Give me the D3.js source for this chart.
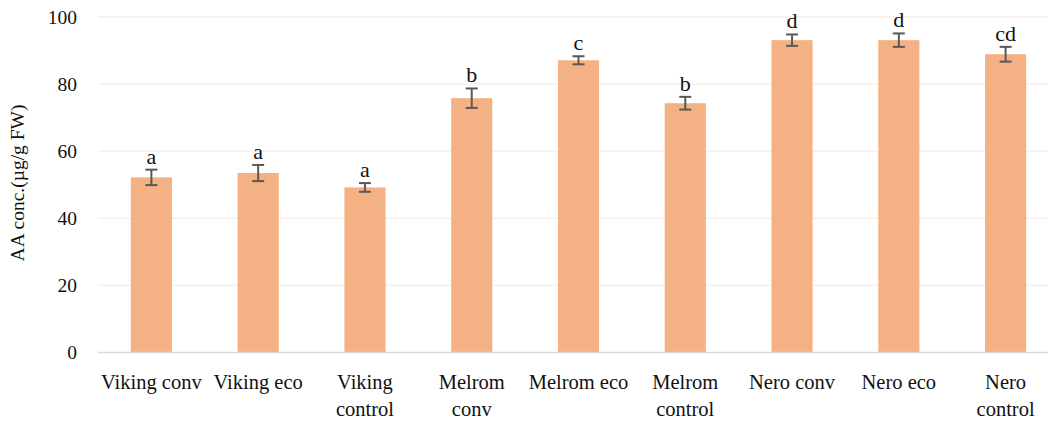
<!doctype html>
<html lang="en">
<head>
<meta charset="UTF-8" />
<title>AA conc.</title>
<script src="https://cdn.jsdelivr.net/npm/d3@7"></script>
<style>
  body { margin: 0; background: #fff; }
  text { font-family: "Liberation Serif", "DejaVu Serif", serif; fill: #111; }
</style>
</head>
<body>
<svg id="chart" width="1048" height="423"></svg>
<script>
// data
const categories = ["Viking conv", "Viking eco", "Viking control", "Melrom conv", "Melrom eco",
                    "Melrom control", "Nero conv", "Nero eco", "Nero control"];
const tickLines = [["Viking conv"], ["Viking eco"], ["Viking", "control"], ["Melrom", "conv"], ["Melrom eco"],
                   ["Melrom", "control"], ["Nero conv"], ["Nero eco"], ["Nero", "control"]];
const values = [52.2, 53.5, 49.2, 75.8, 87.1, 74.3, 93.1, 93.1, 88.9];
const errors = [2.3, 2.4, 1.3, 2.9, 1.2, 1.9, 1.7, 2.0, 2.2];
const letters = ["a", "a", "a", "b", "c", "b", "d", "d", "cd"];
const yTicks = [0, 20, 40, 60, 80, 100];

const svg = d3.select("#chart");

const x = d3.scaleBand().domain(categories).range([98, 1059]).paddingInner(0.615).paddingOuter(0.3075);
const y = d3.scaleLinear().domain([0, 100]).range([352.5, 17]);

// gridlines
svg.append("g")
  .selectAll("line")
  .data(yTicks.slice(1))
  .join("line")
  .attr("x1", 98).attr("x2", 1048)
  .attr("y1", d => y(d)).attr("y2", d => y(d))
  .attr("stroke", "#fbece3").attr("stroke-width", 1.3);

// y axis labels
const yAxis = d3.axisLeft(y).tickValues(yTicks).tickSize(0).tickPadding(0);
svg.append("g")
  .attr("transform", "translate(77,0)")
  .call(yAxis)
  .call(g => g.select(".domain").remove())
  .selectAll("text")
  .attr("font-size", 19.5)
  .attr("font-family", "Liberation Serif, serif")
  .attr("fill", "#111");

// bars
svg.append("g")
  .selectAll("rect")
  .data(values)
  .join("rect")
  .attr("x", (d, i) => x(categories[i]))
  .attr("width", x.bandwidth())
  .attr("y", d => y(d))
  .attr("height", d => y(0) - y(d))
  .attr("fill", "#f4b183");

// baseline
svg.append("line")
  .attr("x1", 98).attr("x2", 1048)
  .attr("y1", y(0)).attr("y2", y(0))
  .attr("stroke", "#d9d9d9").attr("stroke-width", 1.5);

// error bars
const eb = svg.append("g").attr("stroke", "#595959").attr("stroke-width", 2);
values.forEach((v, i) => {
  const cx = x(categories[i]) + x.bandwidth() / 2;
  eb.append("line").attr("x1", cx).attr("x2", cx).attr("y1", y(v + errors[i])).attr("y2", y(v - errors[i]));
  eb.append("line").attr("x1", cx - 6).attr("x2", cx + 6).attr("y1", y(v + errors[i])).attr("y2", y(v + errors[i]));
  eb.append("line").attr("x1", cx - 6).attr("x2", cx + 6).attr("y1", y(v - errors[i])).attr("y2", y(v - errors[i]));
});

// significance letters
svg.append("g")
  .selectAll("text")
  .data(letters)
  .join("text")
  .attr("x", (d, i) => x(categories[i]) + x.bandwidth() / 2)
  .attr("y", (d, i) => y(values[i] + errors[i]) - 6)
  .attr("text-anchor", "middle")
  .attr("font-size", 22)
  .text(d => d);

// category labels
const xl = svg.append("g")
  .selectAll("text")
  .data(categories)
  .join("text")
  .attr("x", d => x(d) + x.bandwidth() / 2)
  .attr("y", 389)
  .attr("text-anchor", "middle")
  .attr("font-size", 20.5);
xl.each(function (d, i) {
  d3.select(this).selectAll("tspan")
    .data(tickLines[i])
    .join("tspan")
    .attr("x", x(d) + x.bandwidth() / 2)
    .attr("dy", (t, j) => j === 0 ? 0 : 27)
    .text(t => t);
});

// y axis title
svg.append("text")
  .attr("transform", "translate(24,183) rotate(-90)")
  .attr("text-anchor", "middle")
  .attr("font-size", 19.5)
  .text("AA conc.(µg/g FW)");
</script>
</body>
</html>
